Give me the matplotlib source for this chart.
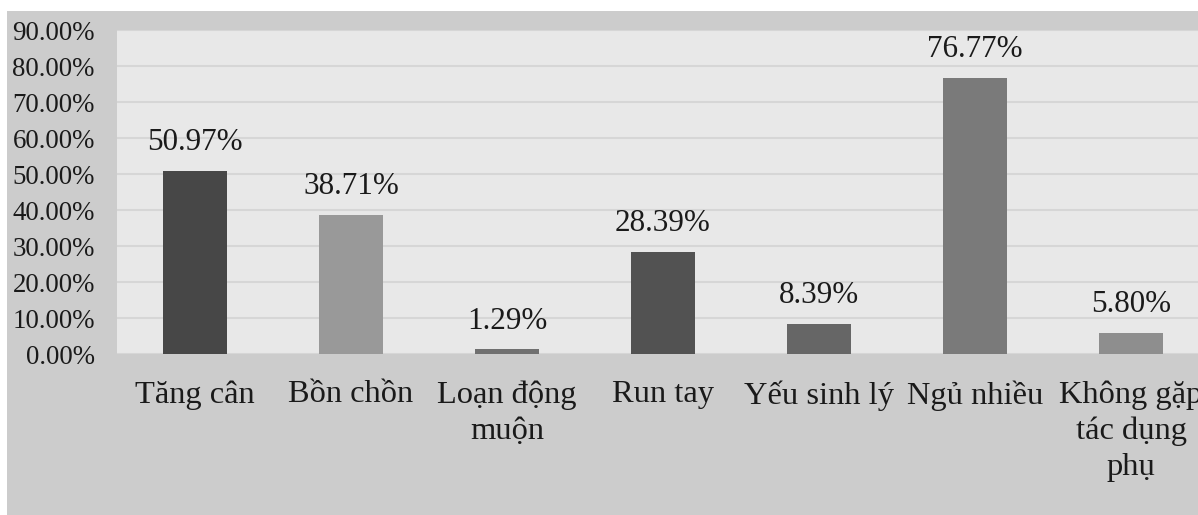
import matplotlib.pyplot as plt
from matplotlib.patches import Rectangle
from matplotlib.ticker import FuncFormatter

# Tác dụng phụ ghi nhận (tỉ lệ %)
categories = ["Tăng cân", "Bồn chồn", "Loạn động\nmuộn", "Run tay",
              "Yếu sinh lý", "Ngủ nhiều", "Không gặp\ntác dụng\nphụ"]
values = [50.97, 38.71, 1.29, 28.39, 8.39, 76.77, 5.80]
colors = ["#474747", "#999999", "#707070", "#525252",
          "#666666", "#7a7a7a", "#8e8e8e"]
yticks = [0, 10, 20, 30, 40, 50, 60, 70, 80, 90]

plt.rcParams['font.family'] = ['Liberation Serif', 'DejaVu Serif']

W, H = 1198, 515
fig = plt.figure(figsize=(W / 100, H / 100), dpi=100)
fig.patch.set_facecolor("white")

# nền xám của vùng biểu đồ
fig.add_artist(Rectangle((7 / W, 0), 1, (H - 11) / H,
                         transform=fig.transFigure,
                         facecolor="#cccccc", edgecolor="none", zorder=-10))

ax = fig.add_axes([117 / W, (H - 354) / H, 1092 / W, 324 / H])
ax.set_facecolor("#e8e8e8")

x = range(len(categories))
bars = ax.bar(x, values, width=0.41, color=colors, zorder=3)

for b, v in zip(bars, values):
    ax.annotate(f"{v:.2f}%", (b.get_x() + b.get_width() / 2, v),
                xytext=(0, 15), textcoords="offset points",
                ha="center", va="baseline", fontsize=22.4, color="#1a1a1a")

ax.set_xlim(-0.5, len(categories) - 0.5)
ax.set_ylim(0, 90)
ax.set_yticks(yticks)
ax.yaxis.set_major_formatter(FuncFormatter(lambda v, _: f"{v:.2f}%"))
ax.set_xticks(list(x))
ax.set_xticklabels(categories, fontsize=23.4, linespacing=1.31, color="#1a1a1a")
ax.tick_params(axis="y", labelsize=19.4, length=0, pad=16, labelcolor="#1a1a1a")
ax.tick_params(axis="x", length=0, pad=19)

ax.grid(axis="y", color="#d6d6d6", linewidth=1.5, zorder=1)
for s in ax.spines.values():
    s.set_visible(False)

fig.savefig("out.png", dpi=100)
